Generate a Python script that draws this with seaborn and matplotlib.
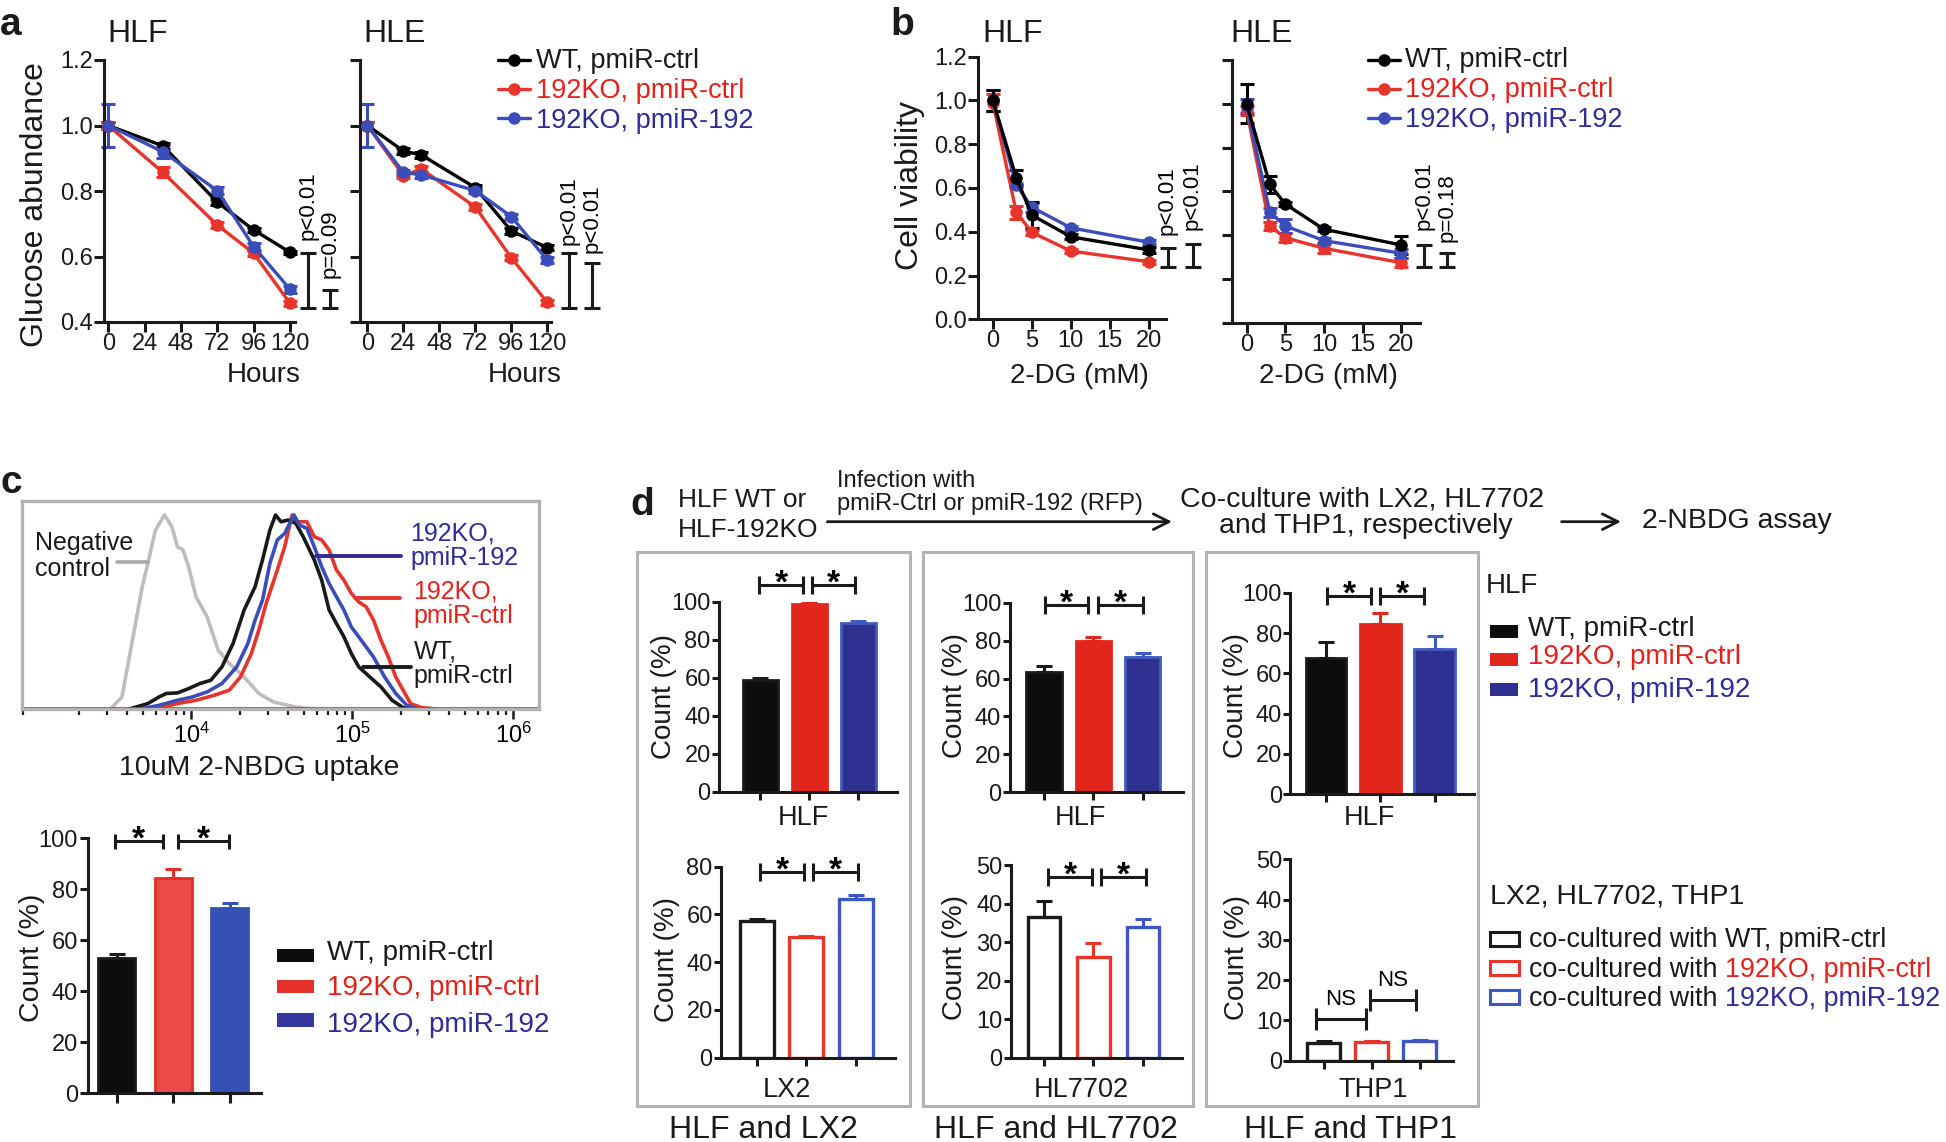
import numpy as np
import pandas as pd
import matplotlib
matplotlib.use("Agg")
import matplotlib.pyplot as plt
import seaborn as sns
from matplotlib.lines import Line2D
from matplotlib.patches import Rectangle
from matplotlib.ticker import FormatStrFormatter, LogLocator, NullFormatter

sns.set_theme(style="ticks")
plt.rcParams["font.family"] = ["Liberation Sans", "DejaVu Sans"]
plt.rcParams["mathtext.fontset"] = "custom"
plt.rcParams["mathtext.rm"] = "Liberation Sans"
plt.rcParams["mathtext.it"] = "Liberation Sans:italic"
plt.rcParams["mathtext.bf"] = "Liberation Sans:bold"
for k in ("text.color", "axes.labelcolor", "xtick.color", "ytick.color"):
    plt.rcParams[k] = "black"

# ------------------------------------------------------------------ data
groups = ["WT, pmiR-ctrl", "192KO, pmiR-ctrl", "192KO, pmiR-192"]

# panel a : glucose abundance
a_hour_ticks = [0, 24, 48, 72, 96, 120]
a_hlf_hours = [0, 36, 72, 96, 120]
a_hlf_wt = [1.0, 0.938, 0.766, 0.681, 0.613]
a_hlf_ko = [1.0, 0.857, 0.696, 0.610, 0.457]
a_hlf_rescue = [1.0, 0.920, 0.801, 0.630, 0.500]
a_hlf_wt_err = [0.01, 0.01, 0.01, 0.005, 0.005]
a_hlf_ko_err = [0.01, 0.015, 0.008, 0.008, 0.008]
a_hlf_rescue_err = [0.065, 0.02, 0.01, 0.01, 0.01]
a_hle_hours = [0, 24, 36, 72, 96, 120]
a_hle_wt = [1.0, 0.922, 0.910, 0.810, 0.678, 0.627]
a_hle_ko = [1.0, 0.847, 0.867, 0.751, 0.596, 0.460]
a_hle_rescue = [1.0, 0.857, 0.849, 0.801, 0.722, 0.589]
a_hle_wt_err = [0.01, 0.008, 0.008, 0.008, 0.008, 0.008]
a_hle_ko_err = [0.01, 0.008, 0.01, 0.008, 0.008, 0.008]
a_hle_rescue_err = [0.065, 0.008, 0.008, 0.008, 0.008, 0.008]

# panel b : cell viability vs 2-DG
b_dose = [0, 3, 5, 10, 20]
b_dose_ticks = [0, 5, 10, 15, 20]
b_hlf_wt = [1.0, 0.647, 0.476, 0.377, 0.317]
b_hlf_ko = [0.99, 0.489, 0.397, 0.312, 0.263]
b_hlf_rescue = [1.0, 0.614, 0.512, 0.418, 0.352]
b_hlf_wt_err = [0.05, 0.035, 0.06, 0.012, 0.015]
b_hlf_ko_err = [0.04, 0.03, 0.01, 0.01, 0.01]
b_hlf_rescue_err = [0.05, 0.01, 0.02, 0.01, 0.01]
b_hle_wt = [1.0, 0.632, 0.542, 0.427, 0.355]
b_hle_ko = [0.97, 0.442, 0.388, 0.340, 0.274]
b_hle_rescue = [0.99, 0.504, 0.442, 0.375, 0.317]
b_hle_wt_err = [0.09, 0.04, 0.01, 0.01, 0.04]
b_hle_ko_err = [0.02, 0.02, 0.02, 0.02, 0.02]
b_hle_rescue_err = [0.03, 0.02, 0.03, 0.01, 0.02]

# panel c (top) : flow histograms, x = log10(intensity), y = % of max
c_neg_log = [3.499, 3.568, 3.637, 3.694, 3.729, 3.775, 3.832, 3.878, 3.913, 3.947,
             3.982, 4.028, 4.097, 4.166, 4.235, 4.327, 4.418, 4.510, 4.648, 4.763]
c_neg_y = [0.2, 6.2, 37.2, 63, 75, 92, 100, 94, 83.6, 82,
           73.3, 57.8, 47.5, 30.3, 23.4, 16.5, 8, 3.6, 1, 0]
c_wt_log = [3.614, 3.729, 3.798, 3.844, 3.913, 3.982, 4.051, 4.120, 4.189, 4.258,
            4.327, 4.395, 4.441, 4.487, 4.522, 4.556, 4.602, 4.648, 4.694, 4.763,
            4.809, 4.855, 4.901, 4.947, 4.993, 5.039, 5.108, 5.177, 5.246, 5.315, 5.384]
c_wt_y = [0, 2.8, 6.2, 8, 8.3, 10.5, 13.1, 14.8, 21.7, 33.7,
          51, 63, 76.8, 92.2, 100, 96.5, 97.4, 95.7, 88.8, 76.8,
          66.4, 51, 44, 37.2, 28.6, 21.7, 16.5, 11.4, 4.5, 0.7, 0]
c_resc_log = [3.683, 3.798, 3.913, 4.005, 4.097, 4.189, 4.281, 4.350, 4.395, 4.441,
              4.487, 4.533, 4.579, 4.637, 4.671, 4.717, 4.763, 4.809, 4.855, 4.901,
              4.947, 4.993, 5.039, 5.085, 5.131, 5.200, 5.269, 5.338, 5.407]
c_resc_y = [0, 1.9, 4.5, 6.2, 8.8, 13.1, 21.7, 33.7, 45.8, 56.1,
            75, 87.1, 90.5, 100, 94.8, 93.1, 83.6, 73.3, 64.7, 57.8,
            51, 42.3, 37.2, 32, 26.8, 16.5, 8, 1.9, 0]
c_ko_log = [3.775, 3.913, 4.028, 4.143, 4.235, 4.304, 4.372, 4.418, 4.464, 4.533,
            4.579, 4.625, 4.648, 4.717, 4.763, 4.809, 4.855, 4.901, 4.947, 4.993,
            5.039, 5.085, 5.131, 5.177, 5.223, 5.269, 5.315, 5.361, 5.430, 5.522]
c_ko_y = [0, 2.8, 4.5, 7.1, 9.7, 16.5, 28.6, 40.6, 54.4, 71.6,
          83.6, 100, 96.5, 96.5, 88.8, 87.1, 81.9, 71.6, 66.4, 59.6,
          55.2, 52.7, 45.8, 35.5, 26.8, 16.5, 9.7, 2.8, 0.7, 0]
c_x_ticks = [1e4, 1e5, 1e6]

# panel c (bottom) : 2-NBDG positive count
c_count = [53.0, 84.3, 72.5]
c_count_err = [1.5, 3.5, 2.0]

# panel d : 2-NBDG counts
d_hlf_lx2 = [58.8, 98.6, 88.6]
d_hlf_lx2_err = [0.8, 0.5, 1.1]
d_hlf_hl7702 = [63.6, 79.8, 71.2]
d_hlf_hl7702_err = [3.0, 2.2, 2.1]
d_hlf_thp1 = [67.5, 84.5, 71.9]
d_hlf_thp1_err = [7.9, 5.3, 6.6]
d_lx2 = [57.3, 50.4, 66.5]
d_lx2_err = [0.8, 0.5, 1.5]
d_hl7702 = [36.6, 26.2, 33.8]
d_hl7702_err = [4.1, 3.5, 2.2]
d_thp1 = [4.5, 4.6, 4.9]
d_thp1_err = [0.4, 0.3, 0.3]

# ------------------------------------------------------------------ style
RED = "#E8342A"
BLUE = "#3B4DB8"
RED_TXT = "#E3221B"
BLUE_TXT = "#2F2B97"
GRAY_BOX = "#B3B3B3"
GRAY_CURVE = "#BDBDBD"
LINE_COLORS = ["#000000", RED, BLUE]

W, H = 1946, 1142
fig = plt.figure(figsize=(W / 100, H / 100), dpi=100, facecolor="white")

ov = fig.add_axes([0, 0, 1, 1], zorder=10)
ov.set_xlim(0, W)
ov.set_ylim(H, 0)
ov.axis("off")
ov.patch.set_alpha(0)


def add_ax(l, t, r, b):
    ax = fig.add_axes([l / W, 1 - b / H, (r - l) / W, (b - t) / H])
    ax.patch.set_alpha(0)
    return ax


def T(x, y, s, size, color="k", ha="left", va="baseline", rot=0, weight="normal"):
    return ov.text(x, y, s, fontsize=size, color=color, ha=ha, va=va, rotation=rot,
                   rotation_mode="anchor", fontweight=weight)


def noclip(cont):
    for art in cont.get_children():
        art.set_clip_on(False)


def style_xy(ax, lw=2.2, tick_len=7, labelsize=17):
    sns.despine(ax=ax)
    for s in ("left", "bottom"):
        ax.spines[s].set_linewidth(lw)
        ax.spines[s].set_color("k")
    ax.tick_params(direction="out", length=tick_len, width=lw, color="k",
                   labelsize=labelsize, pad=1, labelcolor="k")
    ax.set_xlabel("")
    ax.set_ylabel("")
    ax.grid(False)


def line_panel(ax, x, ys, errs, order):
    for i in order:
        sns.lineplot(x=x, y=ys[i], ax=ax, color=LINE_COLORS[i], marker="o", markersize=9,
                     markeredgewidth=0, linewidth=2.4, legend=False, zorder=3, errorbar=None)
        cont = ax.errorbar(x, ys[i], yerr=errs[i], fmt="none", ecolor=LINE_COLORS[i],
                           elinewidth=2.2, capsize=5, capthick=2.2, zorder=2)
        noclip(cont)
    for ln in ax.lines:
        ln.set_clip_on(False)


def p_bracket(ax, x, lo, hi, label, label_bottom, size=16, capsize=6):
    cont = ax.errorbar([x], [(lo + hi) / 2], yerr=[(hi - lo) / 2], fmt="none", ecolor="k",
                       elinewidth=2.2, capsize=capsize, capthick=2.2)
    noclip(cont)
    ax.text(x, label_bottom, label, rotation=90, ha="center", va="bottom", fontsize=size,
            clip_on=False)


def sig(ax, x0, x1, y, text="*", capsize=6.5, size=24, off=-5.5, weight="bold"):
    cont = ax.errorbar([(x0 + x1) / 2], [y], xerr=[(x1 - x0) / 2], fmt="none", ecolor="k",
                       elinewidth=2.2, capsize=capsize, capthick=2.2)
    noclip(cont)
    ax.annotate(text, xy=((x0 + x1) / 2, y), xytext=(0, off), textcoords="offset points",
                ha="center", va="baseline", fontsize=size, fontweight=weight,
                annotation_clip=False)


def bar_panel(ax, values, errs, fills, edges, width, ymax, ystep, hollow=False,
              edge_lw=2.0, capsize=6, ytick_len=5, xtick_len=6, labelsize=17):
    df = pd.DataFrame({"group": groups, "value": values})
    sns.barplot(data=df, x="group", y="value", hue="group", palette=fills, width=width,
                saturation=1, errorbar=None, legend=False, ax=ax)
    for p, ec in zip(ax.patches, edges):
        p.set_edgecolor(ec)
        p.set_linewidth(edge_lw)
        if hollow:
            p.set_facecolor("white")
    for i, (v, e, ec) in enumerate(zip(values, errs, edges)):
        cont = ax.errorbar([i], [v], yerr=[[0], [e]], fmt="none", ecolor=ec,
                           elinewidth=2.2, capsize=capsize, capthick=2.2, zorder=3)
        noclip(cont)
    ax.set_ylim(0, ymax)
    ax.set_yticks(np.arange(0, ymax + 0.1, ystep))
    ax.set_xticks([0, 1, 2])
    style_xy(ax, labelsize=labelsize)
    ax.set_xticklabels([])
    ax.tick_params(axis="y", length=ytick_len)
    ax.tick_params(axis="x", length=xtick_len)


# ------------------------------------------------------------------ panel a
ax_a1 = add_ax(104, 60, 295, 322)
line_panel(ax_a1, a_hlf_hours, [a_hlf_wt, a_hlf_ko, a_hlf_rescue],
           [a_hlf_wt_err, a_hlf_ko_err, a_hlf_rescue_err], [0, 1, 2])
ax_a1.set_xlim(-2.8, 123.3)
ax_a1.set_ylim(0.4, 1.2)
ax_a1.set_xticks(a_hour_ticks)
ax_a1.set_yticks([0.4, 0.6, 0.8, 1.0, 1.2])
ax_a1.yaxis.set_major_formatter(FormatStrFormatter("%.1f"))
style_xy(ax_a1)
p_bracket(ax_a1, 131.6, 0.442, 0.610, "p<0.01", 0.650)
p_bracket(ax_a1, 146.6, 0.442, 0.498, "p=0.09", 0.534)

ax_a2 = add_ax(360, 60, 551, 322)
line_panel(ax_a2, a_hle_hours, [a_hle_wt, a_hle_ko, a_hle_rescue],
           [a_hle_wt_err, a_hle_ko_err, a_hle_rescue_err], [0, 1, 2])
ax_a2.set_xlim(-5, 122.5)
ax_a2.set_ylim(0.4, 1.2)
ax_a2.set_xticks(a_hour_ticks)
ax_a2.set_yticks([0.4, 0.6, 0.8, 1.0, 1.2])
style_xy(ax_a2)
ax_a2.tick_params(axis="y", labelleft=False)
p_bracket(ax_a2, 134.8, 0.442, 0.610, "p<0.01", 0.635)
p_bracket(ax_a2, 150.0, 0.442, 0.580, "p<0.01", 0.611)

# ------------------------------------------------------------------ panel b
ax_b1 = add_ax(978, 56.7, 1166, 319.3)
line_panel(ax_b1, b_dose, [b_hlf_wt, b_hlf_ko, b_hlf_rescue],
           [b_hlf_wt_err, b_hlf_ko_err, b_hlf_rescue_err], [1, 2, 0])
ax_b1.set_xlim(-1.91, 22.2)
ax_b1.set_ylim(0, 1.2)
ax_b1.set_xticks(b_dose_ticks)
ax_b1.set_yticks(np.arange(0, 1.21, 0.2))
ax_b1.yaxis.set_major_formatter(FormatStrFormatter("%.1f"))
style_xy(ax_b1)
p_bracket(ax_b1, 22.4, 0.240, 0.324, "p<0.01", 0.385)
p_bracket(ax_b1, 25.6, 0.240, 0.343, "p<0.01", 0.408)

ax_b2 = add_ax(1231.7, 60, 1419.7, 322.7)
line_panel(ax_b2, b_dose, [b_hle_wt, b_hle_ko, b_hle_rescue],
           [b_hle_wt_err, b_hle_ko_err, b_hle_rescue_err], [1, 2, 0])
ax_b2.set_xlim(-1.93, 22.4)
ax_b2.set_ylim(0, 1.2)
ax_b2.set_xticks(b_dose_ticks)
ax_b2.set_yticks(np.arange(0, 1.21, 0.2))
style_xy(ax_b2)
ax_b2.tick_params(axis="y", labelleft=False)
p_bracket(ax_b2, 23.0, 0.256, 0.355, "p<0.01", 0.423)
p_bracket(ax_b2, 25.9, 0.256, 0.317, "p=0.18", 0.369)

# ------------------------------------------------------------------ panel c top
ax_c1 = add_ax(22, 501, 539, 709)
ax_c1.set_xscale("log")
for xs, ys, col in [(c_neg_log, c_neg_y, GRAY_CURVE), (c_ko_log, c_ko_y, RED),
                    (c_wt_log, c_wt_y, "k"), (c_resc_log, c_resc_y, BLUE)]:
    sns.lineplot(x=np.power(10.0, xs), y=ys, ax=ax_c1, color=col, linewidth=2.6,
                 sort=False, legend=False, errorbar=None)
ax_c1.axhline(0, color=BLUE, lw=2.6)
ax_c1.set_xlim(10 ** 2.947, 10 ** 6.159)
ax_c1.set_ylim(0, 107.2)
ax_c1.set_xlabel("")
ax_c1.set_ylabel("")
ax_c1.grid(False)
for s in ax_c1.spines.values():
    s.set_visible(True)
    s.set_color(GRAY_BOX)
    s.set_linewidth(2.4)
ax_c1.set_xticks(c_x_ticks)
ax_c1.xaxis.set_minor_locator(LogLocator(base=10, subs=np.arange(2, 10)))
ax_c1.xaxis.set_minor_formatter(NullFormatter())
ax_c1.set_yticks([])
ax_c1.tick_params(axis="x", which="major", direction="out", length=7, width=1.8,
                  color="k", labelsize=17, pad=3)
ax_c1.tick_params(axis="x", which="minor", direction="out", length=4, width=1.6, color="k")

# ------------------------------------------------------------------ panel c bottom
ax_c2 = add_ax(87.7, 838.3, 260.8, 1093.3)
bar_panel(ax_c2, c_count, c_count_err, ["#0d0d0d", "#EF4A4A", "#3452B4"],
          ["k", "#E0302B", "#3452B4"], 0.65, 100, 20, capsize=6, ytick_len=6, xtick_len=7)
ax_c2.set_xlim(-0.51, 2.55)
sig(ax_c2, -0.03, 0.82, 99.1, capsize=5.4)
sig(ax_c2, 1.08, 1.99, 99.1, capsize=5.4)

# ------------------------------------------------------------------ panel d
D_FILL = ["#0d0d0d", "#E2261C", "#2E3192"]
D_EDGE = ["k", "#E2261C", "#3F5BC0"]
D_HOLLOW = ["k", "#E8342A", "#3A57C4"]

ax_d1 = add_ax(719, 601.7, 896.7, 791.7)
bar_panel(ax_d1, d_hlf_lx2, d_hlf_lx2_err, D_FILL, D_EDGE, 0.72, 100, 20)
ax_d1.set_xlim(-0.84, 2.78)
sig(ax_d1, -0.02, 0.88, 108.8)
sig(ax_d1, 1.06, 1.94, 108.8)

ax_d2 = add_ax(1009.5, 602.7, 1183, 792.3)
bar_panel(ax_d2, d_hlf_hl7702, d_hlf_hl7702_err, D_FILL, D_EDGE, 0.72, 100, 20)
ax_d2.set_xlim(-0.70, 2.82)
sig(ax_d2, 0.02, 0.90, 99.0)
sig(ax_d2, 1.10, 2.00, 99.0)

ax_d3 = add_ax(1290.4, 592.7, 1473.6, 794.3)
bar_panel(ax_d3, d_hlf_thp1, d_hlf_thp1_err, D_FILL, D_EDGE, 0.745, 100, 20)
ax_d3.set_xlim(-0.66, 2.72)
sig(ax_d3, 0.02, 0.82, 98.4)
sig(ax_d3, 1.00, 1.80, 98.4)

ax_d4 = add_ax(721, 866.7, 894.5, 1057.7)
bar_panel(ax_d4, d_lx2, d_lx2_err, D_HOLLOW, D_HOLLOW, 0.69, 80, 20, hollow=True, edge_lw=2.4)
ax_d4.set_xlim(-0.73, 2.79)
sig(ax_d4, 0.06, 0.96, 77.7)
sig(ax_d4, 1.14, 2.04, 77.7)

ax_d5 = add_ax(1010.8, 865, 1181.6, 1057.7)
bar_panel(ax_d5, d_hl7702, d_hl7702_err, D_HOLLOW, D_HOLLOW, 0.66, 50, 10, hollow=True, edge_lw=2.4)
ax_d5.set_xlim(-0.67, 2.78)
sig(ax_d5, 0.09, 0.98, 46.8)
sig(ax_d5, 1.16, 2.06, 46.8)

ax_d6 = add_ax(1290.4, 859.3, 1453.1, 1060.7)
bar_panel(ax_d6, d_thp1, d_thp1_err, D_HOLLOW, D_HOLLOW, 0.69, 50, 10, hollow=True, edge_lw=2.4)
ax_d6.set_xlim(-0.69, 2.70)
sig(ax_d6, -0.15, 0.88, 10.4, text="NS", capsize=7.8, size=16, off=10, weight="normal")
sig(ax_d6, 0.97, 1.93, 15.1, text="NS", capsize=7.8, size=16, off=10, weight="normal")

# ------------------------------------------------------------------ overlay text
# panel letters
T(0, 35, "a", 28, weight="bold")
T(890, 35, "b", 28, weight="bold")
T(0, 493, "c", 28, weight="bold")
T(630, 515, "d", 28, weight="bold")

# panel a / b titles and labels
T(107, 42, "HLF", 23)
T(363.5, 42, "HLE", 23)
T(982, 42, "HLF", 23)
T(1230.7, 42, "HLE", 23)
T(264, 381.7, "Hours", 20, ha="center")
T(525, 381.7, "Hours", 20, ha="center")
T(1079, 383, "2-DG (mM)", 20, ha="center")
T(1328, 383, "2-DG (mM)", 20, ha="center")
T(43, 205, "Glucose abundance", 23, ha="center", rot=90)
T(918, 185, "Cell viability", 23, ha="center", rot=90)

# legends panel a and b
leg_txt_col = ["k", RED_TXT, BLUE_TXT]
for (x0, x1, xt), ys, bases in [((497.5, 530, 535.7), (60, 89.3, 118.3), (68.3, 98.3, 128.3)),
                                 ((1367.5, 1400, 1404.8), (60, 89.3, 118.3), (66.7, 96.7, 126.7))]:
    for i in range(3):
        ov.add_line(Line2D([x0, x1], [ys[i], ys[i]], color=LINE_COLORS[i], lw=2.4))
        ov.plot([(x0 + x1) / 2], [ys[i]], "o", color=LINE_COLORS[i], ms=9, mew=0)
        T(xt, bases[i], groups[i], 19.5, color=leg_txt_col[i])

# panel c top labels
T(35, 550, "Negative", 18)
T(35, 576, "control", 18)
ov.add_line(Line2D([116.5, 148], [561.7, 561.7], color="#A8A8A8", lw=2.6))
T(410.6, 540, "192KO,", 18, color=BLUE_TXT)
T(410.6, 565, "pmiR-192", 18, color=BLUE_TXT)
ov.add_line(Line2D([316.3, 401.3], [556, 556], color=BLUE_TXT, lw=2.8))
T(413.6, 598.3, "192KO,", 18, color=RED_TXT)
T(413.6, 622.7, "pmiR-ctrl", 18, color=RED_TXT)
ov.add_line(Line2D([355, 399.5], [598.3, 598.3], color=RED, lw=2.8))
T(413.6, 658.3, "WT,", 18)
T(413.6, 683.3, "pmiR-ctrl", 18)
ov.add_line(Line2D([362.5, 410.6], [666.7, 666.7], color="k", lw=2.8))
T(259, 775, "10uM 2-NBDG uptake", 20.5, ha="center")

# panel c bottom labels and legend
T(39, 957.5, "Count (%)", 20.5, ha="center", rot=90)
c_leg_fill = ["#0d0d0d", "#E8302A", "#35389C"]
for i, (top, base) in enumerate([(949, 960), (980, 995), (1013.3, 1031.7)]):
    ov.add_patch(Rectangle((277.4, top), 36.3, 13.3, color=c_leg_fill[i], lw=0))
    T(327.4, base, groups[i], 20, color=leg_txt_col[i])

# panel d header
T(677.7, 506.7, "HLF WT or", 19)
T(677.7, 536.7, "HLF-192KO", 19)
T(837.3, 486.7, "Infection with", 17)
T(837.3, 510, "pmiR-Ctrl or pmiR-192 (RFP)", 17)
ov.annotate("", xy=(1172, 521.7), xytext=(827.3, 521.7),
            arrowprops=dict(arrowstyle="->", lw=2, color="k", mutation_scale=28,
                            shrinkA=0, shrinkB=0))
T(1362, 506.7, "Co-culture with LX2, HL7702", 20.5, ha="center")
T(1366, 533.3, "and THP1, respectively", 20.5, ha="center")
ov.annotate("", xy=(1621, 521.7), xytext=(1561.6, 521.7),
            arrowprops=dict(arrowstyle="->", lw=2, color="k", mutation_scale=28,
                            shrinkA=0, shrinkB=0))
T(1642.5, 528.3, "2-NBDG assay", 20.5)

# panel d boxes
for x0, x1 in [(636.5, 909.7), (922.7, 1192.5), (1205.7, 1478.3)]:
    ov.add_patch(Rectangle((x0, 551.7), x1 - x0, 1106 - 551.7, fill=False, ec=GRAY_BOX, lw=2.2))
T(763, 1138.3, "HLF and LX2", 23, ha="center")
T(1056, 1138.3, "HLF and HL7702", 23, ha="center")
T(1351, 1138.3, "HLF and THP1", 23, ha="center")

# panel d axis labels
for x, y in [(671, 696.7), (962, 696), (1243, 695), (674, 959.2), (962, 958), (1244, 958)]:
    T(x, y, "Count (%)", 20, ha="center", rot=90)
T(803.5, 825, "HLF", 19.5, ha="center")
T(1080, 825, "HLF", 19.5, ha="center")
T(1369, 825, "HLF", 19.5, ha="center")
T(787, 1096.7, "LX2", 19.5, ha="center")
T(1081, 1096.7, "HL7702", 19.5, ha="center")
T(1373.6, 1097.3, "THP1", 19.5, ha="center")

# panel d legends
T(1485.4, 593.3, "HLF", 20)
d_leg_fill = ["#0d0d0d", "#E2261C", "#2E3192"]
for i, (top, base) in enumerate([(625, 636), (652.7, 664), (682.7, 697)]):
    ov.add_patch(Rectangle((1490.2, top), 27.6, 13.3, color=d_leg_fill[i], lw=0))
    T(1528.3, base, groups[i], 20, color=leg_txt_col[i])

T(1490.2, 903.3, "LX2, HL7702, THP1", 20.5)
for i, (top, base) in enumerate([(931.7, 947.3), (961, 976.7), (990, 1005.7)]):
    ov.add_patch(Rectangle((1489.8, top), 28.9, 14.3, fill=False, ec=D_HOLLOW[i], lw=2.2))
    if i == 0:
        T(1529.2, base, "co-cultured with " + groups[i], 19.4)
    else:
        t = T(1529.2, base, "co-cultured with", 19.4)
        ov.annotate(groups[i], xy=(1, 0), xycoords=t, xytext=(5.4, 0),
                    textcoords="offset points", va="bottom", ha="left",
                    fontsize=19.4, color=leg_txt_col[i])

fig.savefig("out.png", dpi=100, facecolor="white")
